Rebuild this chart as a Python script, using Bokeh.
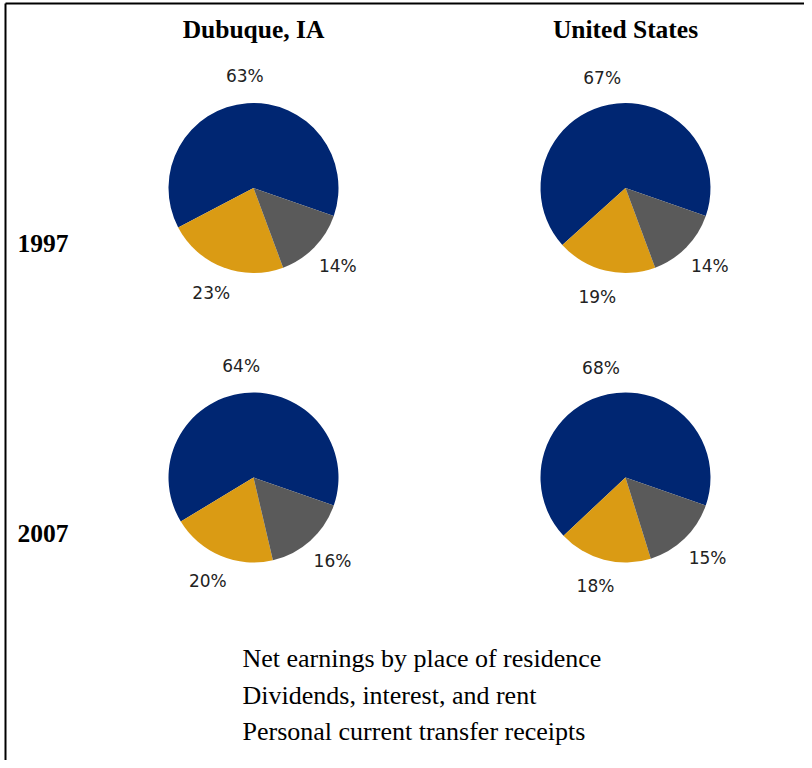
from math import pi, cos, sin
from bokeh.plotting import figure
from bokeh.models import Range1d, ColumnDataSource
from bokeh.core.properties import value
from bokeh.embed import file_html
from bokeh.resources import INLINE

# ---- data ----
regions = ["Dubuque, IA", "United States"]
years = ["1997", "2007"]
categories = ["Net earnings by place of residence",
              "Dividends, interest, and rent",
              "Personal current transfer receipts"]
colors = ["#002672", "#DA9B14", "#5A5A5A"]
dubuque_1997 = [63, 23, 14]
dubuque_2007 = [64, 20, 16]
us_1997 = [67, 19, 14]
us_2007 = [68, 18, 15]
shares = {("Dubuque, IA", "1997"): dubuque_1997,
          ("Dubuque, IA", "2007"): dubuque_2007,
          ("United States", "1997"): us_1997,
          ("United States", "2007"): us_2007}

W, H = 804, 760
def Y(py):
    return H - py

p = figure(width=W, height=H, output_backend="svg", toolbar_location=None,
           x_range=Range1d(0, W), y_range=Range1d(0, H),
           min_border=0, outline_line_color=None)
p.axis.visible = False
p.grid.visible = False
p.background_fill_color = "white"

# border (top and left)
p.line([5, W], [Y(3), Y(3)], line_color="black", line_width=2)
p.line([5, 5], [Y(3), Y(H)], line_color="black", line_width=2)

col_x = [253, 625]
row_y = [187.5, 477]
R = 85
start0 = -19.2 * pi / 180

for ci, reg in enumerate(regions):
    for ri, yr in enumerate(years):
        vals = shares[(reg, yr)]
        tot = float(sum(vals))
        cx, cy = col_x[ci], Y(row_y[ri])
        starts, ends, lx, ly, txt = [], [], [], [], []
        a = start0
        for v in vals:
            b = a + 2 * pi * v / tot
            starts.append(a)
            ends.append(b)
            m = (a + b) / 2
            lx.append(cx + 112 * cos(m) + 6 * cos(m))
            ly.append(cy + 112 * sin(m))
            txt.append(f"{v}%")
            a = b
        src = ColumnDataSource(dict(x=[cx] * 3, y=[cy] * 3, s=starts, e=ends,
                                    c=colors, lx=lx, ly=ly, t=txt))
        p.wedge(x="x", y="y", radius=R, start_angle="s", end_angle="e",
                fill_color="c", line_color=None, source=src)
        p.text(x="lx", y="ly", text="t", source=src, text_align="center",
               text_baseline="middle", text_font=value("DejaVu Sans"),
               text_font_size="17px", text_color="#222222")

# column titles
p.text(x=col_x, y=[Y(29)] * 2, text=regions, text_align="center",
       text_baseline="middle", text_font=value("Liberation Serif"),
       text_font_size="25.5px", text_font_style="bold", text_color="black")
# row labels
p.text(x=[17, 17], y=[Y(243), Y(533)], text=years, text_align="left",
       text_baseline="middle", text_font=value("Liberation Serif"),
       text_font_size="25.5px", text_font_style="bold", text_color="black")
# legend text
p.text(x=[242] * 3, y=[Y(658), Y(695), Y(731)], text=categories,
       text_align="left", text_baseline="middle",
       text_font=value("Liberation Serif"), text_font_size="26px",
       text_color="black")

open("out.html", "w").write(file_html(p, INLINE))
